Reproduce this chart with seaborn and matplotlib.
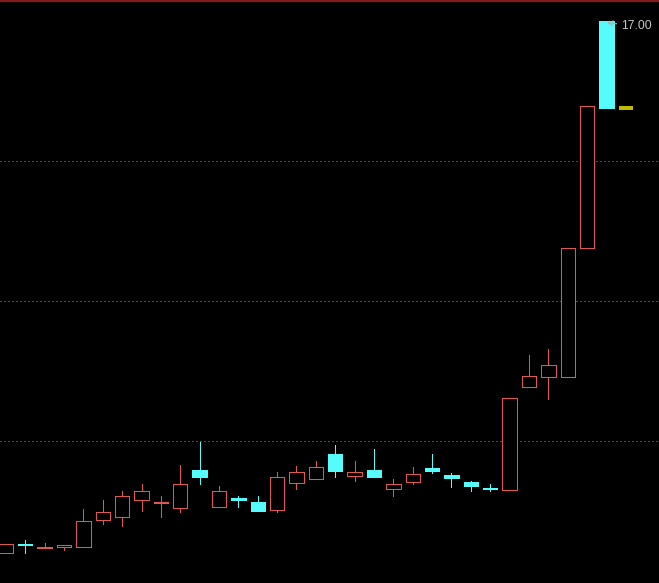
import matplotlib
matplotlib.use("Agg")
import matplotlib.pyplot as plt
import seaborn as sns
import numpy as np
import pandas as pd

# ---- data ----
opens  = [9.40, 9.53, 9.47, 9.48, 9.48, 9.87, 9.92, 10.15, 10.11, 10.04,
          10.59, 10.05, 10.19, 10.13, 10.01, 10.40, 10.45, 10.81, 10.50, 10.59,
          10.32, 10.41, 10.61, 10.51, 10.41, 10.33, 10.30, 11.77, 11.92, 11.91,
          13.76, 17.00]
highs  = [9.53, 9.58, 9.55, 9.52, 10.03, 10.16, 10.28, 10.39, 10.22, 10.66,
          10.99, 10.36, 10.22, 10.21, 10.56, 10.65, 10.72, 10.95, 10.72, 10.88,
          10.46, 10.63, 10.82, 10.55, 10.43, 10.38, 11.62, 12.23, 12.32, 13.76,
          15.79, 17.00]
lows   = [9.40, 9.40, 9.47, 9.45, 9.48, 9.82, 9.78, 10.00, 9.91, 9.98,
          10.38, 10.05, 10.06, 10.00, 9.99, 10.31, 10.45, 10.48, 10.43, 10.48,
          10.22, 10.38, 10.55, 10.35, 10.29, 10.28, 10.30, 11.77, 11.60, 11.91,
          13.76, 15.76]
closes = [9.53, 9.51, 9.49, 9.52, 9.85, 9.99, 10.21, 10.29, 10.13, 10.38,
          10.49, 10.29, 10.15, 10.00, 10.49, 10.55, 10.63, 10.57, 10.56, 10.48,
          10.38, 10.53, 10.57, 10.47, 10.35, 10.31, 11.62, 11.93, 12.09, 13.76,
          15.79, 15.76]
last_price = 15.76          # flat yellow bar after the last candle
grid_levels = [11.0, 13.0, 15.0]
label_text = "17.00"
label_price = 17.00

df = pd.DataFrame({"open": opens, "high": highs, "low": lows, "close": closes})
df["idx"] = np.arange(len(df))
df["up"] = df["close"] >= df["open"]

RED = "#e0584f"
CYAN = "#54fcfc"
YELLOW = "#c0bc00"
GRID = "#b02424"
BORDER = "#861818"

sns.set_style("dark", {"axes.facecolor": "black", "figure.facecolor": "black"})

W, H, DPI = 659, 583, 100
fig = plt.figure(figsize=(W / DPI, H / DPI), dpi=DPI)
ax = fig.add_axes([0, 0, 1, 1])
ax.set_facecolor("black")

px = 0.72  # one pixel in points
bw = 0.74

# grid lines
for g in grid_levels:
    ax.axhline(g, color=GRID, lw=px, linestyle=(0, (1.5, 2.5)), antialiased=False, zorder=1)

up = df[df["up"]]
dn = df[~df["up"]]

# wicks of up candles (outside the hollow box)
ax.vlines(up["idx"], up["close"], up["high"], color=RED, lw=px, antialiased=False, zorder=2)
ax.vlines(up["idx"], up["low"], up["open"], color=RED, lw=px, antialiased=False, zorder=2)
# wicks of down candles
ax.vlines(dn["idx"], dn["low"], dn["high"], color=CYAN, lw=px, antialiased=False, zorder=2)

# bodies
ax.bar(up["idx"], up["close"] - up["open"], bottom=up["open"], width=bw,
       facecolor="black", edgecolor=RED, linewidth=px, antialiased=False, zorder=3)
ax.bar(dn["idx"], dn["close"] - dn["open"], bottom=dn["open"], width=bw,
       facecolor=CYAN, edgecolor=CYAN, linewidth=px, antialiased=False, zorder=3)

# flat yellow bar
nx = len(df)
ax.hlines(last_price, nx - bw / 2, nx + bw / 2, color=YELLOW, lw=1.5, antialiased=False, zorder=3)

# max label with arrow
ax.annotate(label_text, xy=(31.03, 16.975), xytext=(31.77, 16.93),
            color="#c8c8c8", fontsize=8.7, family=["Liberation Sans", "DejaVu Sans"],
            va="center", ha="left",
            arrowprops=dict(arrowstyle="->", color="#b0b0b0", lw=0.8,
                            shrinkA=1, shrinkB=0))

# scales: map to the reference pixel layout
x0 = -5.9 / 19.373
x1 = (W - 5.9) / 19.373
ax.set_xlim(x0, x1)
ax.set_ylim(15 - (H - 161) / 70.0, 15 + 161 / 70.0)

ax.set_xticks([])
ax.set_yticks([])
ax.grid(False)
for s in ["left", "right", "bottom"]:
    ax.spines[s].set_visible(False)
ax.spines["top"].set_visible(True)
ax.spines["top"].set_color(BORDER)
ax.spines["top"].set_linewidth(3)

fig.savefig("out.png", dpi=DPI, facecolor="black")
